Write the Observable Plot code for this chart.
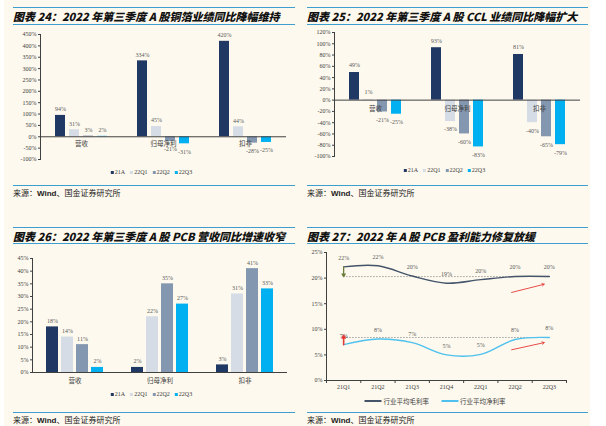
<!DOCTYPE html>
<html><head><meta charset="utf-8">
<script src="https://cdn.jsdelivr.net/npm/d3@7"></script>
<script src="https://cdn.jsdelivr.net/npm/@observablehq/plot@0.6"></script>
<style>
html,body{margin:0;padding:0;background:#fff;}
body{width:606px;height:426px;position:relative;overflow:hidden;font-family:"Noto Sans CJK SC",sans-serif;}
#bg{position:absolute;left:4px;top:0;width:586px;height:426px;background:#fdf9ee;}
.hl{position:absolute;height:1px;background:#3e9fcf;}
.title{position:absolute;font-weight:900;font-style:italic;font-size:11px;line-height:14px;color:#111;white-space:nowrap;}
.src{position:absolute;font-size:8px;line-height:10px;color:#222;white-space:nowrap;}
.src b{font-family:"Liberation Sans",Arial,sans-serif;font-weight:700;}
.legend{position:absolute;font-size:6px;line-height:8px;color:#404040;white-space:nowrap;display:flex;align-items:center;transform:translateX(-50%);font-family:"Liberation Serif",serif;}
.legend .cjk{font-family:"Noto Sans CJK SC",sans-serif;font-size:6.5px;}
.sw{display:inline-block;width:3px;height:3px;margin-right:1px;}
.ln{display:inline-block;width:17px;height:1.2px;margin-right:2px;}
.item{display:flex;align-items:center;margin-right:5px;}
.plot{position:absolute;}
.plot svg{overflow:visible;}
</style></head><body>
<div id="bg"></div>
<div id="root"></div>
<script>
// ---------- data ----------
const barCategories = ["营收", "归母净利", "扣非"];
const barSeries = ["21A", "22Q1", "22Q2", "22Q3"];
const barColors = ["#203864", "#d6dce5", "#8497b0", "#00b0f0"];

// 图表24 铜箔
const foil21A = [94, 334, 420];
const foil22Q1 = [31, 45, 44];
const foil22Q2 = [3, -21, -28];
const foil22Q3 = [2, -31, -25];
const foilTicks = [-100, -50, 0, 50, 100, 150, 200, 250, 300, 350, 400, 450];

// 图表25 CCL
const ccl21A = [49, 93, 81];
const ccl22Q1 = [1, -38, -40];
const ccl22Q2 = [-21, -60, -65];
const ccl22Q3 = [-25, -83, -79];
const cclTicks = [-100, -80, -60, -40, -20, 0, 20, 40, 60, 80, 100, 120];

// 图表26 PCB
const pcb21A = [18, 2, 3];
const pcb22Q1 = [14, 22, 31];
const pcb22Q2 = [11, 35, 41];
const pcb22Q3 = [2, 27, 33];
const pcbTicks = [0, 5, 10, 15, 20, 25, 30, 35, 40, 45];

// 图表27 PCB 盈利能力
const quarters = ["21Q1", "21Q2", "21Q3", "21Q4", "22Q1", "22Q2", "22Q3"];
const grossMargin = [22.2, 22.4, 20.4, 19.0, 19.7, 20.3, 20.3];
const netMargin = [7.0, 8.1, 7.4, 5.0, 5.1, 8.0, 8.4];
const marginTicks = [0, 5, 10, 15, 20, 25];
const lineNames = ["行业平均毛利率", "行业平均净利率"];
const lineColors = ["#44546a", "#4fc1ee"];
// annotation arrows (trend), in quarter-index / percent units
const trendArrowX = [4.9, 5.85];
const grossTrendY = [17.2, 18.8];
const netTrendY = [6.0, 7.4];

// ---------- helpers ----------
const root = document.getElementById("root");
function el(cls, style, html) {
  const d = document.createElement("div");
  d.className = cls;
  Object.assign(d.style, style);
  if (html != null) d.innerHTML = html;
  root.appendChild(d);
  return d;
}
function frame(x0, x1, yTop, yTitle, yUnder, yBottom, title) {
  el("hl", {left: x0 + "px", top: yTop + "px", width: (x1 - x0) + "px"});
  el("title", {left: x0 + "px", top: (yTitle - 7) + "px"}, title);
  el("hl", {left: x0 + "px", top: yUnder + "px", width: (x1 - x0) + "px"});
  el("hl", {left: x0 + "px", top: yBottom + "px", width: (x1 - x0) + "px"});
  el("src", {left: x0 + "px", top: (yBottom + 3) + "px"}, "来源：<b>Wind</b>、国金证券研究所");
}
function barLegend(cx, cy) {
  const items = barSeries.map((s, i) =>
    `<span class="item"><span class="sw" style="background:${barColors[i]}"></span>${s}</span>`).join("");
  el("legend", {left: cx + "px", top: (cy - 4) + "px"}, items);
}
const tickFont = {background: "transparent", fontFamily: "'Liberation Serif', serif", fontSize: "6px", color: "#404040"};

function barPlot({cols, ticks, width, height, mL, mR, mT, mB, padIn, padOut, left, top, catDy, posDy, negDy}) {
  const data = [];
  barCategories.forEach((c, i) => cols.forEach((arr, j) => data.push({cat: c, series: barSeries[j], value: arr[i]})));
  const p = Plot.plot({
    width, height, marginLeft: mL, marginRight: mR, marginTop: mT, marginBottom: mB,
    style: tickFont,
    fx: {domain: barCategories, padding: 0, axis: null},
    x: {domain: barSeries, paddingInner: padIn, paddingOuter: padOut, axis: null},
    y: {domain: [ticks[0], ticks[ticks.length - 1]], ticks, tickFormat: d => d + "%", tickSize: 2, tickPadding: 2, line: true, label: null},
    color: {domain: barSeries, range: barColors},
    marks: [
      Plot.barY(data, {fx: "cat", x: "series", y: "value", fill: "series"}),
      Plot.ruleY([0], {stroke: "#404040", strokeWidth: 1}),
      Plot.text(data, {filter: d => d.value >= 0, fx: "cat", x: "series", y: "value", text: d => d.value + "%", dy: posDy, fontSize: 6, fill: "#595959"}),
      Plot.text(data, {filter: d => d.value < 0, fx: "cat", x: "series", y: "value", text: d => d.value + "%", dy: negDy, fontSize: 6, fill: "#595959"}),
      Plot.text(barCategories, {fx: d => d, y: () => 0, text: d => d, dy: catDy, fontSize: 6.5, fill: "#404040", fontFamily: "'Noto Sans CJK SC', sans-serif"})
    ]
  });
  const wrap = el("plot", {left: left + "px", top: top + "px"});
  wrap.appendChild(p);
}

// ---------- panel 24 ----------
frame(13, 295, 7, 15.5, 24, 185, "图表 24：2022 年第三季度 A 股铜箔业绩同比降幅维持");
barPlot({cols: [foil21A, foil22Q1, foil22Q2, foil22Q3], ticks: foilTicks, width: 282, height: 140,
  mL: 26, mR: 8, mT: 8, mB: 7, padIn: 0.27, padOut: 0.89, left: 13, top: 26, catDy: 7, posDy: -6, negDy: 8});
barLegend(154, 172);

// ---------- panel 25 ----------
frame(307, 588, 7, 15.5, 24, 185, "图表 25：2022 年第三季度 A 股 CCL 业绩同比降幅扩大");
barPlot({cols: [ccl21A, ccl22Q1, ccl22Q2, ccl22Q3], ticks: cclTicks, width: 281, height: 140,
  mL: 26, mR: 8, mT: 6, mB: 10, padIn: 0.27, padOut: 0.89, left: 307, top: 26, catDy: 9, posDy: -7, negDy: 8});
barLegend(447, 170);

// ---------- panel 26 ----------
frame(13, 295, 227, 235.5, 243, 412, "图表 26：2022 年第三季度 A 股 PCB 营收同比增速收窄");
barPlot({cols: [pcb21A, pcb22Q1, pcb22Q2, pcb22Q3], ticks: pcbTicks, width: 282, height: 140,
  mL: 19, mR: 8, mT: 12, mB: 14, padIn: 0.22, padOut: 0.89, left: 13, top: 246, catDy: 8, posDy: -6, negDy: 8});
barLegend(154, 394);

// ---------- panel 27 ----------
frame(307, 588, 227, 235.5, 243, 412, "图表 27：2022 年 A 股 PCB 盈利能力修复放缓");
{
  const rows = quarters.map((q, i) => ({i, q, gross: grossMargin[i], net: netMargin[i]}));
  const last = quarters.length - 1;
  const boundaries = d3.range(-0.5, quarters.length, 1);
  const p = Plot.plot({
    width: 281, height: 150, marginLeft: 19, marginRight: 22, marginTop: 6, marginBottom: 16,
    style: tickFont,
    x: {type: "linear", domain: [-0.5, last + 0.5], ticks: boundaries, tickFormat: () => "", tickSize: 3, line: true, label: null},
    y: {domain: [0, 25], ticks: marginTicks, tickFormat: d => d + "%", tickSize: 2, tickPadding: 2, line: true, label: null},
    marks: [
      Plot.ruleY([grossMargin[last]], {x1: 0, x2: last, stroke: "#8c8c8c", strokeDasharray: "1.5,1.5", strokeWidth: 0.8}),
      Plot.ruleY([netMargin[last]], {x1: 0, x2: last, stroke: "#8c8c8c", strokeDasharray: "1.5,1.5", strokeWidth: 0.8}),
      Plot.line(rows, {x: "i", y: "gross", stroke: lineColors[0], strokeWidth: 1.4, curve: "catmull-rom"}),
      Plot.line(rows, {x: "i", y: "net", stroke: lineColors[1], strokeWidth: 1.4, curve: "catmull-rom"}),
      Plot.text(rows, {x: "i", y: "gross", text: d => Math.round(d.gross) + "%", dy: -9, fontSize: 6, fill: "#595959"}),
      Plot.text(rows, {x: "i", y: "net", text: d => Math.round(d.net) + "%", dy: -9, fontSize: 6, fill: "#595959"}),
      Plot.text(quarters, {x: (d, i) => i, y: () => 0, text: d => d, dy: 7, fontSize: 6, fill: "#404040"}),
      Plot.arrow([0], {x1: () => 0, x2: () => 0, y1: () => grossMargin[0], y2: () => grossMargin[last], stroke: "#6b7d3a", strokeWidth: 1.3, headLength: 3.5}),
      Plot.arrow([0], {x1: () => 0, x2: () => 0, y1: () => netMargin[0], y2: () => netMargin[last] + 0.4, stroke: "#e53935", strokeWidth: 1.6, headLength: 4}),
      Plot.arrow([0], {x1: () => trendArrowX[0], x2: () => trendArrowX[1], y1: () => grossTrendY[0], y2: () => grossTrendY[1], stroke: "#e53935", strokeWidth: 0.9, headLength: 4}),
      Plot.arrow([0], {x1: () => trendArrowX[0], x2: () => trendArrowX[1], y1: () => netTrendY[0], y2: () => netTrendY[1], stroke: "#e53935", strokeWidth: 0.9, headLength: 4})
    ]
  });
  const wrap = el("plot", {left: "307px", top: "246px"});
  wrap.appendChild(p);
  const items = lineNames.map((n, i) =>
    `<span class="item" style="margin-right:12px"><span class="ln" style="background:${lineColors[i]}"></span><span class="cjk">${n}</span></span>`).join("");
  el("legend", {left: "441px", top: "397px"}, items);
}
</script>
</body></html>
